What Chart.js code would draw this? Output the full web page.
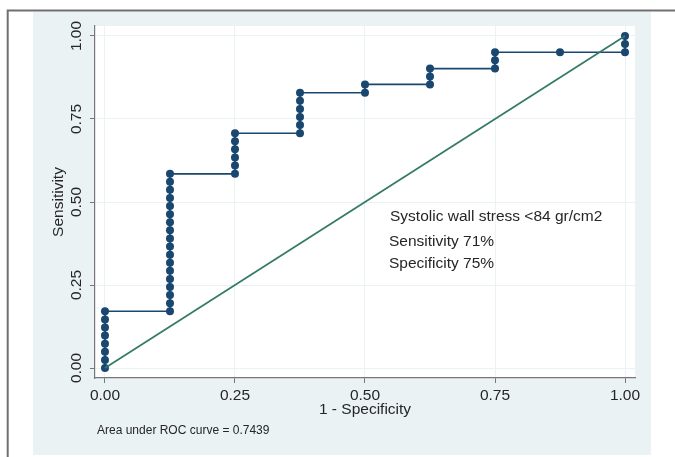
<!DOCTYPE html>
<html>
<head>
<title>ROC curve - systolic wall stress</title>
<script src="https://cdn.jsdelivr.net/npm/chart.js@4.4.1/dist/chart.umd.min.js"></script>
<style>
body { margin:0; background:#ffffff; }
#wrap { width:675px; height:457px; }
</style>
</head>
<body>
<div id="wrap"><canvas id="roc" width="675" height="457"></canvas></div>
<script>
// ROC points (1 - specificity, sensitivity)
var fpr = [0, 0, 0, 0, 0, 0, 0, 0,
  0.125, 0.125, 0.125, 0.125, 0.125, 0.125, 0.125, 0.125, 0.125,
  0.125, 0.125, 0.125, 0.125, 0.125, 0.125, 0.125, 0.125, 0.125,
  0.25, 0.25, 0.25, 0.25, 0.25, 0.25,
  0.375, 0.375, 0.375, 0.375, 0.375, 0.375,
  0.5, 0.5,
  0.625, 0.625, 0.625,
  0.75, 0.75, 0.75,
  0.875,
  1, 1, 1];
var sens = [0, 0.024, 0.049, 0.073, 0.098, 0.122, 0.146, 0.171,
  0.171, 0.195, 0.220, 0.244, 0.268, 0.293, 0.317, 0.341, 0.366,
  0.390, 0.415, 0.439, 0.463, 0.488, 0.512, 0.537, 0.561, 0.585,
  0.585, 0.610, 0.634, 0.659, 0.683, 0.707,
  0.707, 0.732, 0.756, 0.780, 0.805, 0.829,
  0.829, 0.854,
  0.854, 0.878, 0.902,
  0.902, 0.927, 0.951,
  0.951,
  0.951, 0.976, 1];
var refX = [0, 1];
var refY = [0, 1];
var tickVals = [0, 0.25, 0.5, 0.75, 1];
var tickText = ["0.00", "0.25", "0.50", "0.75", "1.00"];
var notes = ["Systolic wall stress <84 gr/cm2", "Sensitivity 71%", "Specificity 75%"];
var aucText = "Area under ROC curve = 0.7439";

var navy = "#1a476f";
var green = "#337a67";
var txt = "#262626";
var fnt = '"Liberation Sans", Arial, sans-serif';

var rocPts = fpr.map(function (v, i) { return { x: v, y: sens[i] }; });
var refPts = refX.map(function (v, i) { return { x: v, y: refY[i] }; });

var framePlugin = {
  id: 'frame',
  beforeDraw: function (chart) {
    var c = chart.ctx, a = chart.chartArea;
    c.save();
    c.fillStyle = "#ffffff";
    c.fillRect(0, 0, chart.width, chart.height);
    c.fillStyle = "#eaf2f3";
    c.fillRect(33, 11.5, 618, 443.5);
    c.strokeStyle = "#707070";
    c.lineWidth = 2;
    c.beginPath();
    c.moveTo(7.7, 457);
    c.lineTo(7.7, 10.5);
    c.lineTo(675, 10.5);
    c.stroke();
    c.fillStyle = "#ffffff";
    c.fillRect(a.left, a.top, a.right - a.left, a.bottom - a.top);
    c.restore();
  },
  afterDraw: function (chart) {
    var c = chart.ctx, xs = chart.scales.x, ys = chart.scales.y, a = chart.chartArea;
    c.save();
    c.fillStyle = txt;
    c.font = "15.5px " + fnt;
    c.textAlign = "center";
    c.textBaseline = "middle";
    tickVals.forEach(function (v, i) {
      c.fillText(tickText[i], xs.getPixelForValue(v), 396);
    });
    c.fillText("1 - Specificity", (xs.getPixelForValue(0) + xs.getPixelForValue(1)) / 2, 410);
    tickVals.forEach(function (v, i) {
      c.save();
      c.translate(77, ys.getPixelForValue(v));
      c.rotate(-Math.PI / 2);
      c.fillText(tickText[i], 0, 0);
      c.restore();
    });
    c.save();
    c.translate(59, (a.top + a.bottom) / 2);
    c.rotate(-Math.PI / 2);
    c.fillText("Sensitivity", 0, 0);
    c.restore();
    c.textAlign = "left";
    c.fillText(notes[0], 390, 217);
    c.fillText(notes[1], 389, 242);
    c.fillText(notes[2], 389, 264);
    c.font = "12px " + fnt;
    c.fillText(aucText, 97, 431);
    c.restore();
  }
};

new Chart(document.getElementById('roc').getContext('2d'), {
  type: 'scatter',
  data: {
    datasets: [{
      data: rocPts,
      showLine: true,
      borderColor: navy,
      borderWidth: 1.7,
      pointRadius: 4,
      pointBackgroundColor: navy,
      pointBorderWidth: 0,
      tension: 0,
      order: 2
    }, {
      data: refPts,
      showLine: true,
      borderColor: green,
      borderWidth: 1.7,
      pointRadius: 0,
      tension: 0,
      order: 1
    }]
  },
  options: {
    responsive: false,
    animation: false,
    events: [],
    layout: { padding: { left: 0, top: 26, right: 40, bottom: 0 } },
    plugins: { legend: { display: false }, tooltip: { enabled: false } },
    scales: {
      x: {
        type: 'linear',
        min: -0.0192,
        max: 1.0192,
        afterBuildTicks: function (s) { s.ticks = tickVals.map(function (v) { return { value: v }; }); },
        afterFit: function (s) { s.height = 79; },
        ticks: { display: false },
        grid: { color: "#eaf2f3", lineWidth: 1, drawTicks: true, tickLength: 5, tickColor: "#777777" },
        border: { display: true, color: "#777777", width: 1.2 }
      },
      y: {
        type: 'linear',
        min: -0.0301,
        max: 1.0301,
        afterBuildTicks: function (s) { s.ticks = tickVals.map(function (v) { return { value: v }; }); },
        afterFit: function (s) { s.width = 95; },
        ticks: { display: false },
        grid: { color: "#eaf2f3", lineWidth: 1, drawTicks: true, tickLength: 5, tickColor: "#777777" },
        border: { display: true, color: "#777777", width: 1.2 }
      }
    }
  },
  plugins: [framePlugin]
});
</script>
</body>
</html>
